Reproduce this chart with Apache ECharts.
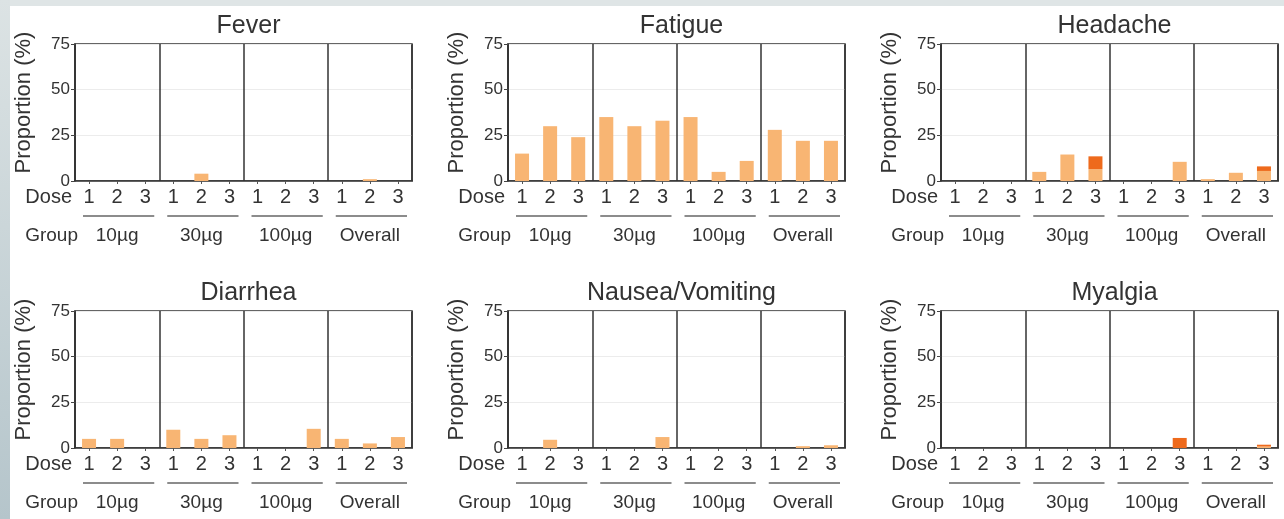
<!DOCTYPE html>
<html><head><meta charset="utf-8">
<script src="https://cdn.jsdelivr.net/npm/echarts@6/dist/echarts.min.js"></script>
<style>html,body{margin:0;padding:0;background:#fff}#c{width:1284px;height:519px}</style>
</head><body><div id="c"></div>
<script>
// ---- data ----
const panelTitles = ['Fever', 'Fatigue', 'Headache', 'Diarrhea', 'Nausea/Vomiting', 'Myalgia'];
const groups = ['10µg', '30µg', '100µg', 'Overall'];
const doses = ['1', '2', '3'];
const yTicks = [0, 25, 50, 75];
// grade 1 (light orange) and grade 2 (dark orange) proportions (%) per group x dose
const feverMild    = [0, 0, 0,   0, 4, 0,    0, 0, 0,    0, 1, 0];
const feverSevere  = [0, 0, 0,   0, 0, 0,    0, 0, 0,    0, 0, 0];
const fatigueMild  = [15, 30, 24, 35, 30, 33, 35, 5, 11, 28, 22, 22];
const fatigueSevere= [0, 0, 0,   0, 0, 0,    0, 0, 0,    0, 0, 0];
const headacheMild = [0, 0, 0,   5, 14.5, 6.5, 0, 0, 10.5, 1, 4.5, 5.5];
const headacheSevere=[0, 0, 0,   0, 0, 7,    0, 0, 0,    0, 0, 2.5];
const diarrheaMild = [5, 5, 0,   10, 5, 7,   0, 0, 10.5, 5, 2.5, 6];
const diarrheaSevere=[0, 0, 0,   0, 0, 0,    0, 0, 0,    0, 0, 0];
const nauseaMild   = [0, 4.5, 0, 0, 0, 6,    0, 0, 0,    0, 1, 1.5];
const nauseaSevere = [0, 0, 0,   0, 0, 0,    0, 0, 0,    0, 0, 0];
const myalgiaMild  = [0, 0, 0,   0, 0, 0,    0, 0, 0,    0, 0, 0.8];
const myalgiaSevere= [0, 0, 0,   0, 0, 0,    0, 0, 5.5,  0, 0, 1];

const mildSets = [feverMild, fatigueMild, headacheMild, diarrheaMild, nauseaMild, myalgiaMild];
const severeSets = [feverSevere, fatigueSevere, headacheSevere, diarrheaSevere, nauseaSevere, myalgiaSevere];

// ---- layout / style ----
const FONT = 'Liberation Sans, Arial, sans-serif';
const TXT = '#333';
const LIGHT = '#f8b573';
const DARK = '#ee6a1c';
const lefts = [75, 508, 941];
const tops = [44, 311];
const GW = 337, GH = 137;

const categories = [];
groups.forEach(g => doses.forEach(d => categories.push(g + '|' + d)));

const grid = [], xAxis = [], yAxis = [], series = [], title = [];
for (let i = 0; i < 6; i++) {
  const col = i % 3, row = Math.floor(i / 3);
  const left = lefts[col], top = tops[row];
  grid.push({left: left, top: top, width: GW, height: GH, show: true,
    borderColor: '#333', borderWidth: 1.5, backgroundColor: '#fff'});
  title.push({text: panelTitles[i], left: left + GW / 2, top: top - 35, textAlign: 'center',
    textStyle: {fontFamily: FONT, fontSize: 25, fontWeight: 'normal', color: TXT}});
  xAxis.push({type: 'category', gridIndex: i, data: categories, position: 'bottom',
    axisLine: {show: true, lineStyle: {color: '#333', width: 1.5}},
    axisTick: {show: true, alignWithLabel: true, length: 3, lineStyle: {color: '#555'}},
    axisLabel: {fontFamily: FONT, fontSize: 20, color: TXT, margin: 6, interval: 0,
      formatter: v => v.split('|')[1]},
    splitLine: {show: false},
    name: 'Dose', nameLocation: 'start', nameGap: 3, nameMoveOverlap: false,
    nameTextStyle: {fontFamily: FONT, fontSize: 20, color: TXT, verticalAlign: 'top', padding: [6, 0, 0, 0]}
  });
  xAxis.push({type: 'category', gridIndex: i, data: groups, position: 'bottom',
    axisLine: {show: false}, axisTick: {show: false},
    axisLabel: {fontFamily: FONT, fontSize: 19, color: TXT, margin: 45, interval: 0},
    splitLine: {show: true, interval: 0, lineStyle: {color: '#333', width: 1.5}},
    name: 'Group', nameLocation: 'start', nameGap: -3, nameMoveOverlap: false,
    nameTextStyle: {fontFamily: FONT, fontSize: 19, color: TXT, verticalAlign: 'top', padding: [45, 0, 0, 0]}
  });
  yAxis.push({type: 'value', gridIndex: i, min: 0, max: 75, interval: 25,
    axisLine: {show: true, lineStyle: {color: '#333', width: 1.5}},
    axisTick: {show: true, length: 4, lineStyle: {color: '#444'}},
    axisLabel: {fontFamily: FONT, fontSize: 17, color: TXT, margin: 5},
    splitLine: {show: true, lineStyle: {color: '#ececec', width: 1}},
    name: 'Proportion (%)', nameLocation: 'middle', nameGap: 40,
    nameTextStyle: {fontFamily: FONT, fontSize: 22, color: TXT, padding: [0, 0, 0, 20]}
  });
  series.push({type: 'bar', name: 'Grade 1', xAxisIndex: 2 * i, yAxisIndex: i, stack: 's' + i,
    barWidth: 14, itemStyle: {color: LIGHT}, data: mildSets[i]});
  series.push({type: 'bar', name: 'Grade 2', xAxisIndex: 2 * i, yAxisIndex: i, stack: 's' + i,
    barWidth: 14, itemStyle: {color: DARK}, data: severeSets[i]});
  series.push({type: 'custom', xAxisIndex: 2 * i + 1, yAxisIndex: i, clip: false, silent: true,
    data: groups.map((g, k) => [k]), encode: {x: 0},
    renderItem: function (params, api) {
      const p = api.coord([api.value(0), 0]);
      const w = api.size([1, 0])[0];
      return {type: 'line', shape: {x1: p[0] - w / 2 + 8, y1: p[1] + 35, x2: p[0] + w / 2 - 5, y2: p[1] + 35},
        style: {stroke: '#8c8c8c', lineWidth: 2}};
    }});
}

const chart = echarts.init(document.getElementById('c'), null, {renderer: 'canvas'});
chart.setOption({
  animation: false,
  backgroundColor: '#fff',
  graphic: [
    {type: 'rect', shape: {x: 0, y: 0, width: 1284, height: 6}, style: {fill: '#dfe5e6'}, z: -1},
    {type: 'rect', shape: {x: 0, y: 0, width: 10, height: 519}, z: -1,
      style: {fill: new echarts.graphic.LinearGradient(0, 0, 0, 1, [
        {offset: 0, color: '#dce3e4'}, {offset: 1, color: '#b5c5cb'}])}}
  ],
  title: title, grid: grid, xAxis: xAxis, yAxis: yAxis, series: series
});
</script></body></html>
